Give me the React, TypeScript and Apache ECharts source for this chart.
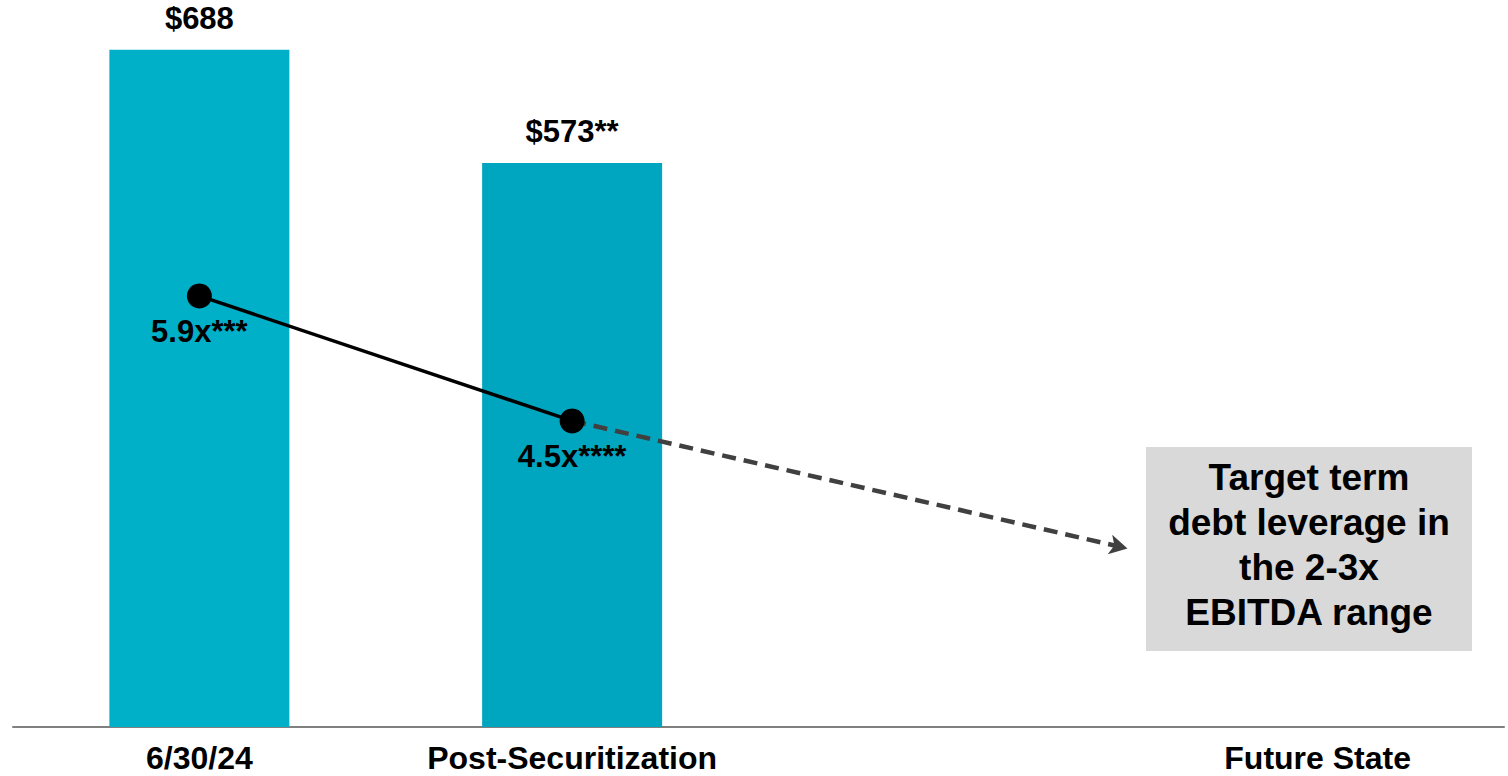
import React, { useEffect, useRef } from "react";
import * as echarts from "echarts";

// Term debt ($M) by period, with leverage (x EBITDA) overlaid
const categories = ["6/30/24", "Post-Securitization", "", "Future State"];
const debtValues = [688, 573, null, null];
const debtLabels = ["$688", "$573**"];
const barColors = ["#00AFC8", "#00A6C0"];

// Leverage points sit on the category positions (0 = 6/30/24, 1 = Post-Securitization)
const leveragePoints: [number, number][] = [
  [0, 5.9],
  [1, 4.5],
];
const leverageLabels = ["5.9x***", "4.5x****"];

// Projected path toward the target range
const trendStart: [number, number] = [1, 4.5];
const trendEnd: [number, number] = [2.49, 3.07];

const targetText = ["Target term", "debt leverage in", "the 2-3x", "EBITDA range"];

const FONT = "'Liberation Sans', Arial, Helvetica, sans-serif";

export default function App() {
  const ref = useRef<HTMLDivElement>(null);

  useEffect(() => {
    if (!ref.current) return;
    const chart = echarts.init(ref.current, undefined, { renderer: "svg" });

    const option: echarts.EChartsOption = {
      animation: false,
      backgroundColor: "#ffffff",
      textStyle: { fontFamily: FONT },
      grid: { left: 13, right: 4, top: 38, bottom: 49, containLabel: false },
      xAxis: [
        {
          type: "category",
          data: categories,
          boundaryGap: true,
          axisLine: { show: true, lineStyle: { color: "#808080", width: 2 } },
          axisTick: { show: false },
          axisLabel: {
            color: "#000000",
            fontFamily: FONT,
            fontWeight: "bold",
            fontSize: 32,
            lineHeight: 30,
            margin: 16,
            interval: 0,
          },
          splitLine: { show: false },
        },
        {
          type: "value",
          min: -0.5,
          max: 3.5,
          show: false,
          splitLine: { show: false },
        },
      ],
      yAxis: [
        { type: "value", min: 0, max: 700, show: false, splitLine: { show: false } },
        { type: "value", min: 1.07, max: 8.79, show: false, splitLine: { show: false } },
      ],
      series: [
        {
          type: "bar",
          xAxisIndex: 0,
          yAxisIndex: 0,
          barWidth: 180,
          z: 1,
          data: debtValues.map((v, i) => ({
            value: v,
            itemStyle: { color: barColors[i] || barColors[0] },
          })),
          label: {
            show: true,
            position: "top",
            distance: 16,
            color: "#000000",
            fontFamily: FONT,
            fontWeight: "bold",
            fontSize: 31,
            formatter: (p: any) => debtLabels[p.dataIndex] ?? "",
          },
        },
        {
          type: "line",
          xAxisIndex: 1,
          yAxisIndex: 1,
          z: 3,
          data: [trendStart, trendEnd],
          symbol: "none",
          lineStyle: { width: 0, opacity: 0 },
          silent: true,
          markLine: {
            silent: true,
            symbol: ["none", "arrow"],
            symbolSize: [15, 18],
            label: { show: false },
            lineStyle: { color: "#404040", width: 4.5, type: [14, 8] },
            data: [[{ coord: trendStart }, { coord: trendEnd }]] as any,
          },
        },
        {
          type: "line",
          xAxisIndex: 1,
          yAxisIndex: 1,
          z: 5,
          data: leveragePoints,
          symbol: "circle",
          symbolSize: 25,
          itemStyle: { color: "#000000" },
          lineStyle: { color: "#000000", width: 3.5 },
          label: {
            show: true,
            position: "bottom",
            distance: 8,
            color: "#000000",
            fontFamily: FONT,
            fontWeight: "bold",
            fontSize: 31,
            formatter: (p: any) => leverageLabels[p.dataIndex] ?? "",
          },
        },
      ],
      graphic: [
        {
          type: "rect",
          left: 1146,
          top: 447,
          shape: { width: 326, height: 204 },
          style: { fill: "#D9D9D9" },
          z: 10,
        },
        {
          type: "text",
          x: 1309,
          y: 545,
          z: 11,
          style: {
            text: targetText.join("\n"),
            fill: "#000000",
            font: `bold 37px ${FONT}`,
            lineHeight: 45,
            align: "center",
            verticalAlign: "middle",
          },
        },
      ],
    };

    chart.setOption(option);
    return () => chart.dispose();
  }, []);

  return (
    <div
      ref={ref}
      style={{ position: "absolute", left: 0, top: 0, width: 1508, height: 776 }}
    />
  );
}
